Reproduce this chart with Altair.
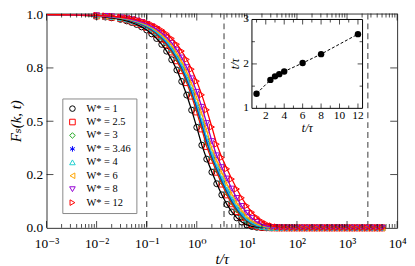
import altair as alt
import pandas as pd

# ---------------- data ----------------
T = [0.001, 0.002, 0.003, 0.005, 0.007, 0.01, 0.015, 0.02, 0.03, 0.04,
     0.05, 0.063, 0.079, 0.1, 0.126, 0.158, 0.2, 0.25, 0.316, 0.4,
     0.5, 0.63, 0.79, 1.0, 1.26, 1.58, 2.0, 2.5, 3.16, 4.0,
     5.0, 6.3, 7.9, 10.0, 12.6, 15.8, 20.0, 25.0, 31.6, 40.0,
     50.0, 63.0, 79.0, 100.0, 126.0, 158.0, 200.0, 250.0, 316.0, 400.0,
     500.0, 630.0, 790.0, 1000.0, 1260.0, 1580.0, 2000.0, 2500.0, 3160.0, 4000.0,
     5000.0]

F_W1 = [0.9992, 0.9985, 0.9977, 0.9962, 0.9948, 0.9925, 0.9888, 0.9851, 0.9777, 0.9704,
        0.9631, 0.9537, 0.9423, 0.9276, 0.9096, 0.8880, 0.8604, 0.8286, 0.7885, 0.7402,
        0.6866, 0.6227, 0.5521, 0.4714, 0.3878, 0.3224, 0.2615, 0.2069, 0.1549, 0.1097,
        0.0747, 0.0467, 0.0271, 0.0139, 0.0064, 0.0026, 0.0009, 0.0003, 0.0001, 0.0,
        0.0, 0.0, 0.0, 0.0, 0.0, 0.0, 0.0, 0.0, 0.0, 0.0,
        0.0, 0.0, 0.0, 0.0, 0.0, 0.0, 0.0, 0.0, 0.0, 0.0,
        0.0]
F_W25 = [0.9994, 0.9988, 0.9982, 0.9970, 0.9957, 0.9939, 0.9909, 0.9879, 0.9819, 0.9759,
         0.9700, 0.9623, 0.9530, 0.9408, 0.9261, 0.9082, 0.8852, 0.8586, 0.8247, 0.7835,
         0.7372, 0.6811, 0.6177, 0.5435, 0.4638, 0.3816, 0.3170, 0.2610, 0.2054, 0.1546,
         0.1128, 0.0769, 0.0495, 0.0289, 0.0155, 0.0076, 0.0032, 0.0012, 0.0004, 0.0001,
         0.0, 0.0, 0.0, 0.0, 0.0, 0.0, 0.0, 0.0, 0.0, 0.0,
         0.0, 0.0, 0.0, 0.0, 0.0, 0.0, 0.0, 0.0, 0.0, 0.0,
         0.0]
F_W3 = [0.9994, 0.9988, 0.9983, 0.9971, 0.9959, 0.9942, 0.9913, 0.9884, 0.9827, 0.9770,
        0.9713, 0.9640, 0.9551, 0.9435, 0.9294, 0.9122, 0.8902, 0.8648, 0.8322, 0.7925,
        0.7477, 0.6933, 0.6317, 0.5591, 0.4807, 0.3991, 0.3291, 0.2727, 0.2164, 0.1644,
        0.1211, 0.0837, 0.0546, 0.0324, 0.0178, 0.0089, 0.0038, 0.0015, 0.0005, 0.0002,
        0.0, 0.0, 0.0, 0.0, 0.0, 0.0, 0.0, 0.0, 0.0, 0.0,
        0.0, 0.0, 0.0, 0.0, 0.0, 0.0, 0.0, 0.0, 0.0, 0.0,
        0.0]
F_W346 = [0.9994, 0.9989, 0.9983, 0.9972, 0.9961, 0.9944, 0.9916, 0.9888, 0.9832, 0.9777,
          0.9721, 0.9650, 0.9563, 0.9451, 0.9313, 0.9146, 0.8932, 0.8683, 0.8365, 0.7977,
          0.7539, 0.7005, 0.6400, 0.5684, 0.4907, 0.4095, 0.3369, 0.2811, 0.2250, 0.1729,
          0.1290, 0.0906, 0.0604, 0.0368, 0.0208, 0.0108, 0.0049, 0.0020, 0.0007, 0.0002,
          0.0, 0.0, 0.0, 0.0, 0.0, 0.0, 0.0, 0.0, 0.0, 0.0,
          0.0, 0.0, 0.0, 0.0, 0.0, 0.0, 0.0, 0.0, 0.0, 0.0,
          0.0]
F_W4 = [0.9995, 0.9989, 0.9984, 0.9973, 0.9962, 0.9946, 0.9918, 0.9891, 0.9837, 0.9784,
        0.9730, 0.9662, 0.9577, 0.9468, 0.9335, 0.9173, 0.8965, 0.8723, 0.8414, 0.8036,
        0.7609, 0.7087, 0.6494, 0.5790, 0.5023, 0.4217, 0.3453, 0.2893, 0.2327, 0.1799,
        0.1352, 0.0957, 0.0644, 0.0396, 0.0227, 0.0120, 0.0055, 0.0023, 0.0008, 0.0002,
        0.0, 0.0, 0.0, 0.0, 0.0, 0.0, 0.0, 0.0, 0.0, 0.0,
        0.0, 0.0, 0.0, 0.0, 0.0, 0.0, 0.0, 0.0, 0.0, 0.0,
        0.0]
F_W6 = [0.9995, 0.9990, 0.9985, 0.9975, 0.9965, 0.9951, 0.9926, 0.9901, 0.9853, 0.9804,
        0.9756, 0.9693, 0.9616, 0.9517, 0.9395, 0.9248, 0.9057, 0.8836, 0.8552, 0.8204,
        0.7807, 0.7321, 0.6763, 0.6096, 0.5359, 0.4574, 0.3716, 0.3155, 0.2594, 0.2059,
        0.1596, 0.1173, 0.0826, 0.0539, 0.0331, 0.0189, 0.0096, 0.0045, 0.0018, 0.0006,
        0.0002, 0.0, 0.0, 0.0, 0.0, 0.0, 0.0, 0.0, 0.0, 0.0,
        0.0, 0.0, 0.0, 0.0, 0.0, 0.0, 0.0, 0.0, 0.0, 0.0,
        0.0]
F_W8 = [0.9995, 0.9991, 0.9986, 0.9978, 0.9969, 0.9955, 0.9933, 0.9910, 0.9866, 0.9821,
        0.9777, 0.9720, 0.9650, 0.9560, 0.9448, 0.9313, 0.9139, 0.8935, 0.8673, 0.8351,
        0.7983, 0.7529, 0.7005, 0.6373, 0.5669, 0.4908, 0.4062, 0.3395, 0.2842, 0.2308,
        0.1835, 0.1395, 0.1021, 0.0699, 0.0454, 0.0278, 0.0154, 0.0080, 0.0036, 0.0014,
        0.0005, 0.0002, 0.0, 0.0, 0.0, 0.0, 0.0, 0.0, 0.0, 0.0,
        0.0, 0.0, 0.0, 0.0, 0.0, 0.0, 0.0, 0.0, 0.0, 0.0,
        0.0]
F_W12 = [0.9996, 0.9993, 0.9989, 0.9981, 0.9974, 0.9963, 0.9944, 0.9925, 0.9888, 0.9851,
         0.9814, 0.9767, 0.9708, 0.9632, 0.9539, 0.9425, 0.9278, 0.9106, 0.8884, 0.8609,
         0.8292, 0.7898, 0.7439, 0.6876, 0.6238, 0.5533, 0.4728, 0.3921, 0.3295, 0.2767,
         0.2287, 0.1822, 0.1410, 0.1036, 0.0730, 0.0492, 0.0307, 0.0183, 0.0098, 0.0047,
         0.0021, 0.0008, 0.0003, 0.0001, 0.0, 0.0, 0.0, 0.0, 0.0, 0.0,
         0.0, 0.0, 0.0, 0.0, 0.0, 0.0, 0.0, 0.0, 0.0, 0.0,
         0.0]

SERIES = [F_W1, F_W25, F_W3, F_W346, F_W4, F_W6, F_W8, F_W12]
W_LABELS = ["W* = 1", "W* = 2.5", "W* = 3", "W* = 3.46", "W* = 4",
            "W* = 6", "W* = 8", "W* = 12"]
COLORS = ["#000000", "#ff0000", "#1fa81f", "#0000ff", "#20d0d0",
          "#ffa500", "#9400d3", "#ff0000"]
ASTERISK = "M0,-1L0,1M-0.87,-0.5L0.87,0.5M-0.87,0.5L0.87,-0.5"
SHAPES = ["circle", "square", "diamond", ASTERISK, "triangle-up",
          "triangle-left", "triangle-down", "triangle-right"]

# inset: relaxation time vs W*
INSET_W = [1, 2.5, 3, 3.46, 4, 6, 8, 12]
INSET_TAU = [1.33, 1.64, 1.72, 1.77, 1.83, 2.02, 2.22, 2.67]

VLINES = [0.1, 3.5, 2600]
DECADES = [0.001, 0.01, 0.1, 1, 10, 100, 1000, 10000]
X_TICK_LABELS = ["10⁻³", "10⁻²", "10⁻¹", "10⁰", "10¹", "10²", "10³", "10⁴"]
Y_TICKS = [0, 0.25, 0.5, 0.75, 1.0]
Y_TICK_LABELS = ["0.0", "0.2", "0.5", "0.8", "1.0"]

INSET_XMAJOR = [2, 4, 6, 8, 10, 12]
INSET_XLABELS = ["2", "4", "6", "8", "10", "12"]
INSET_XMINOR = [1, 3, 5, 7, 9, 11]
INSET_YTICKS = [1, 2, 3]
INSET_YLABELS = ["1", "2", "3"]
INSET_YMINOR = [1.5, 2.5]
INSET_XDOM = [0.5, 12.5]
INSET_YDOM = [1, 3]

for s in SERIES:
    assert len(s) == len(T)

rows = []
for lab, vals in zip(W_LABELS, SERIES):
    for t, f in zip(T, vals):
        rows.append({"t": t, "F": f, "W": lab})
df = pd.DataFrame(rows)

minor_x = [m * d for d in DECADES[:-1] for m in range(2, 10)]

# ---------------- layout ----------------
PW, PH = 355, 217
FONT = "'Liberation Serif', 'Times New Roman', Times, 'DejaVu Serif', serif"

xs = alt.Scale(type="log", domain=[0.001, 10000], nice=False)
ys = alt.Scale(domain=[0, 1.005], nice=False, zero=False)

x_expr = "[" + ",".join("'%s'" % s for s in X_TICK_LABELS) + "][round(log(datum.value)/LN10) + 3]"
y_expr = "[" + ",".join("'%s'" % s for s in Y_TICK_LABELS) + "][round(datum.value*4)]"

X_AXIS = alt.Axis(values=DECADES, labelExpr=x_expr, title="t/τ", ticks=False,
                  domain=False, grid=False, labelFontSize=13.5, labelPadding=9,
                  labelFlush=False, labelOverlap=False, titleFontSize=15,
                  titleFontStyle="italic", titleFontWeight="normal", titlePadding=2)
Y_AXIS = alt.Axis(values=Y_TICKS, labelExpr=y_expr, title="Fₛ(k, t)", ticks=False,
                  domain=False, grid=False, labelFontSize=13.5, labelPadding=4,
                  labelFlush=False, labelOverlap=False, titleFontSize=15,
                  titleFontStyle="italic", titleFontWeight="normal", titlePadding=2)

cs = alt.Scale(domain=W_LABELS, range=COLORS)
ss = alt.Scale(domain=W_LABELS, range=SHAPES)
LEG = alt.Legend(title=None, orient="none", legendX=16, legendY=86, direction="vertical",
                 padding=5, rowPadding=2.6, symbolSize=32, symbolStrokeWidth=1,
                 labelFont=FONT, labelFontSize=10.5, labelOffset=9, strokeColor="#888888",
                 fillColor="white", labelLimit=0)

X = lambda f: alt.X(f, scale=xs, axis=X_AXIS)
Y = lambda f: alt.Y(f, scale=ys, axis=Y_AXIS)

vlines = alt.Chart(pd.DataFrame({"t": VLINES})).mark_rule(
    color="#666666", strokeDash=[6, 4], strokeWidth=1.3).encode(x=X("t:Q"))

points = alt.Chart(df).transform_filter("datum.t >= 0.01").mark_point(
    filled=False, size=36, strokeWidth=1, opacity=1).encode(
    x=X("t:Q"), y=Y("F:Q"),
    color=alt.Color("W:N", scale=cs, legend=LEG),
    shape=alt.Shape("W:N", scale=ss, legend=LEG))

lines = alt.Chart(df).mark_line(strokeWidth=1.3, clip=True).encode(
    x=X("t:Q"), y=Y("F:Q"), color=alt.Color("W:N", scale=cs, legend=None))

def xticks(vals, size, top):
    return alt.Chart(pd.DataFrame({"t": vals})).mark_tick(
        orient="vertical", size=size, thickness=1, color="black",
        yOffset=(size / 2 if top else -size / 2)).encode(
        x=X("t:Q"), y=alt.value(0 if top else PH))

def yticks(vals, size, right):
    return alt.Chart(pd.DataFrame({"F": vals})).mark_tick(
        orient="horizontal", size=size, thickness=1, color="black",
        xOffset=(-size / 2 if right else size / 2)).encode(
        y=Y("F:Q"), x=alt.value(PW if right else 0))

main = alt.layer(
    vlines, points, lines,
    xticks(DECADES, 7, False), xticks(DECADES, 7, True),
    xticks(minor_x, 4, False), xticks(minor_x, 4, True),
    yticks(Y_TICKS[1:-1], 7, False), yticks(Y_TICKS[1:-1], 7, True),
)

# ---------------- inset ----------------
ix = alt.Scale(domain=INSET_XDOM, range=[208, 320], nice=False, zero=False)
iy = alt.Scale(domain=INSET_YDOM, range=[96, 6], nice=False, zero=False)
IX = lambda f: alt.X(f, scale=ix, axis=None)
IY = lambda f: alt.Y(f, scale=iy, axis=None)
IXD = lambda v: alt.XDatum(v, scale=ix, axis=None)
IYD = lambda v: alt.YDatum(v, scale=iy, axis=None)

one = pd.DataFrame({"a": [0]})
inset_df = pd.DataFrame({"W": INSET_W, "tau": INSET_TAU})

frame = alt.Chart(pd.DataFrame({"x": [INSET_XDOM[0]], "x2": [INSET_XDOM[1]],
                                "y": [INSET_YDOM[0]], "y2": [INSET_YDOM[1]]})).mark_rect(
    fill="white", stroke="black", strokeWidth=1).encode(
    x=IX("x:Q"), x2="x2:Q", y=IY("y:Q"), y2="y2:Q")

iline = alt.Chart(inset_df).mark_line(color="black", strokeDash=[3, 2], strokeWidth=1).encode(
    x=IX("W:Q"), y=IY("tau:Q"))
ipts = alt.Chart(inset_df).mark_circle(color="black", size=42, opacity=1).encode(
    x=IX("W:Q"), y=IY("tau:Q"))

def ixticks(vals, size, top):
    return alt.Chart(pd.DataFrame({"v": vals})).mark_tick(
        orient="vertical", size=size, thickness=1, color="black",
        yOffset=(size / 2 if top else -size / 2)).encode(
        x=IX("v:Q"), y=IYD(INSET_YDOM[1] if top else INSET_YDOM[0]))

def iyticks(vals, size, right):
    return alt.Chart(pd.DataFrame({"v": vals})).mark_tick(
        orient="horizontal", size=size, thickness=1, color="black",
        xOffset=(-size / 2 if right else size / 2)).encode(
        y=IY("v:Q"), x=IXD(INSET_XDOM[1] if right else INSET_XDOM[0]))

ixlab = alt.Chart(pd.DataFrame({"v": INSET_XMAJOR, "lab": INSET_XLABELS})).mark_text(
    font=FONT, fontSize=11.5, baseline="top", yOffset=2, color="black").encode(
    x=IX("v:Q"), y=IYD(INSET_YDOM[0]), text="lab:N")
iylab = alt.Chart(pd.DataFrame({"v": INSET_YTICKS, "lab": INSET_YLABELS})).mark_text(
    font=FONT, fontSize=11.5, align="right", baseline="middle", xOffset=-3, color="black").encode(
    x=IXD(INSET_XDOM[0]), y=IY("v:Q"), text="lab:N")
ixtitle = alt.Chart(one).mark_text(
    font=FONT, fontSize=12, fontStyle="italic", baseline="top", yOffset=15, color="black").encode(
    x=IXD(6.5), y=IYD(INSET_YDOM[0]), text=alt.value("t/τ"))
iytitle = alt.Chart(one).mark_text(
    font=FONT, fontSize=12, fontStyle="italic", angle=270, baseline="middle",
    xOffset=-17, color="black").encode(
    x=IXD(INSET_XDOM[0]), y=IYD(2), text=alt.value("t/τ"))

inset = alt.layer(
    frame, iline, ipts,
    ixticks(INSET_XMAJOR, 5, False), ixticks(INSET_XMAJOR, 5, True),
    ixticks(INSET_XMINOR, 3, False), ixticks(INSET_XMINOR, 3, True),
    iyticks(INSET_YTICKS[1:-1], 5, False), iyticks(INSET_YTICKS[1:-1], 5, True),
    iyticks(INSET_YMINOR, 3, False), iyticks(INSET_YMINOR, 3, True),
    ixlab, iylab, ixtitle, iytitle,
)

chart = alt.layer(main, inset).resolve_scale(
    x="independent", y="independent"
).properties(
    width=PW, height=PH,
    autosize=alt.AutoSizeParams(type="none"),
    padding={"left": 39, "top": 4, "right": 10, "bottom": 37},
).configure_view(
    stroke="#333333", strokeWidth=1
).configure_axis(
    labelFont=FONT, titleFont=FONT, labelColor="black", titleColor="black"
)

chart.save("out.html", embed_options={"renderer": "svg", "actions": False})
